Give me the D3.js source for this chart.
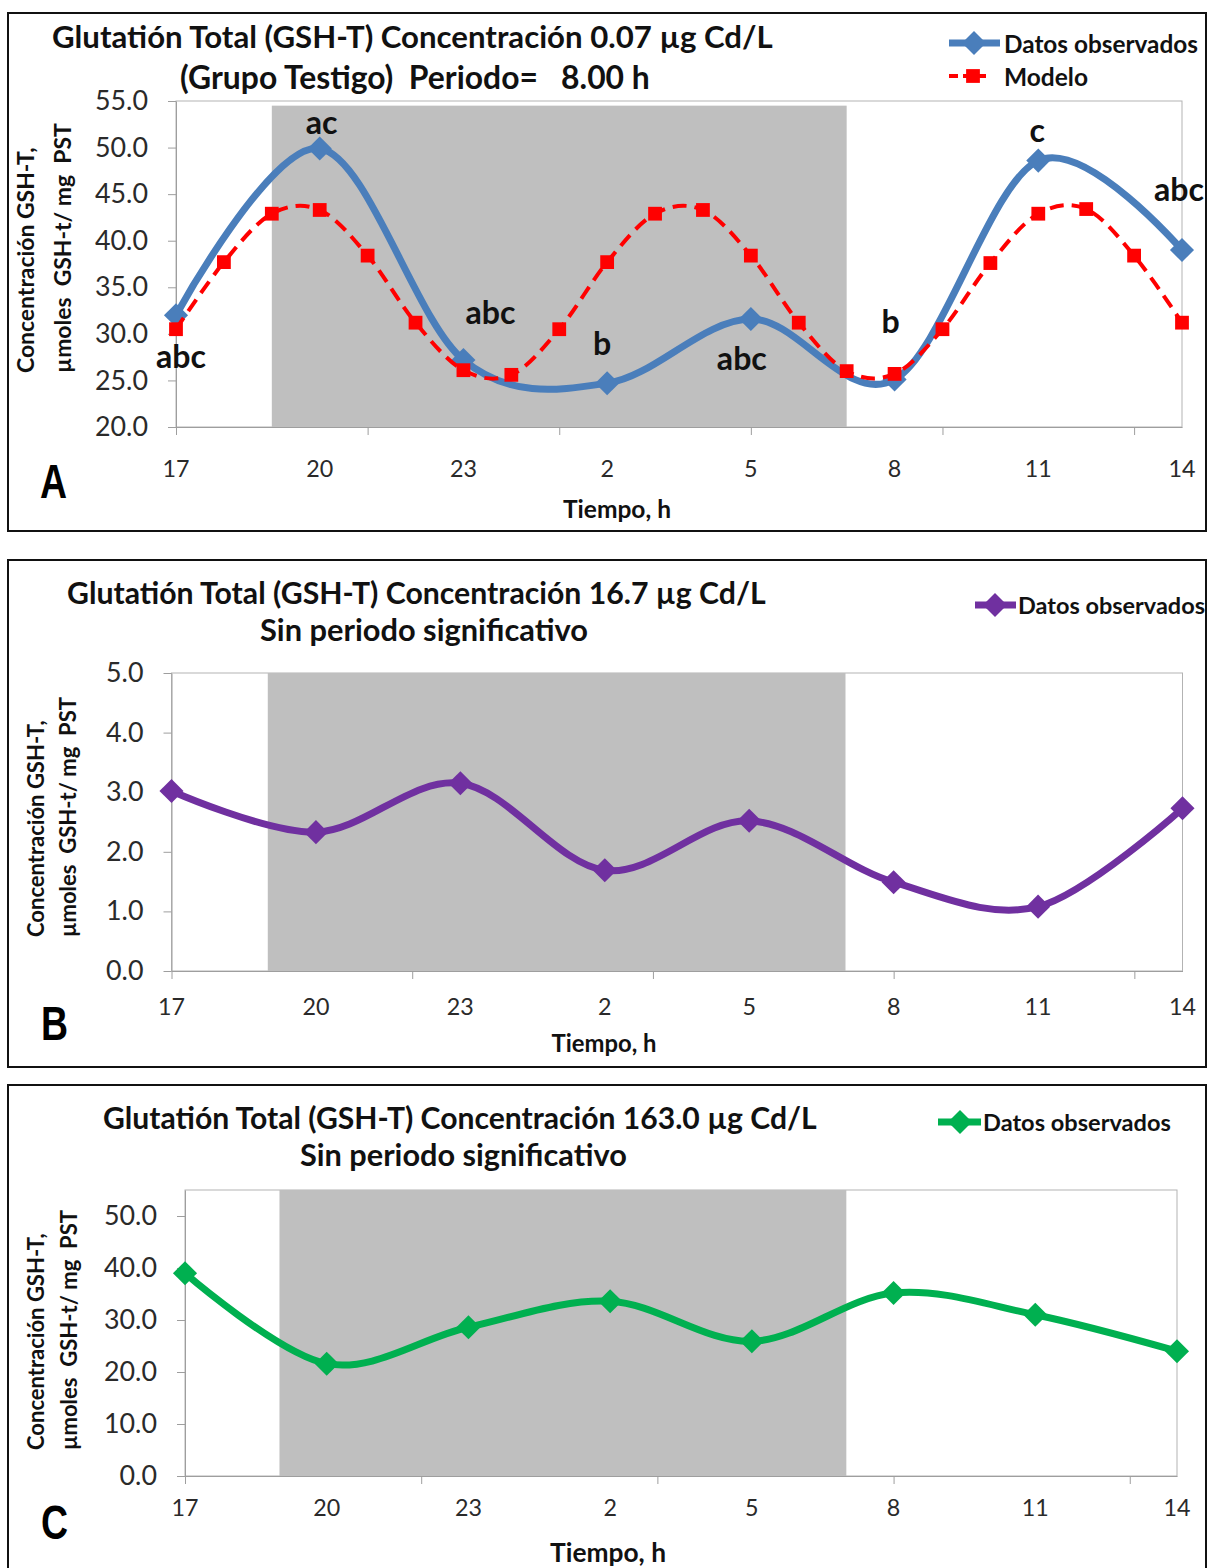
<!DOCTYPE html>
<html>
<head>
<meta charset="utf-8">
<script src="https://cdn.jsdelivr.net/npm/d3@7"></script>
<style>
  body { margin: 0; background: #fff; }
  svg { display: block; font-family: Lato, "Open Sans", sans-serif; }
</style>
</head>
<body>
<div id="chart"></div>
<script>
// ── data ─────────────────────────────────────────────
const X_LABELS    = ["17", "20", "23", "2", "5", "8", "11", "14"];
const LABEL_HOURS = [0, 3, 6, 9, 12, 15, 18, 21];          // hours after 17:00
const OBS_HOURS   = [0, 3, 6, 9, 12, 15, 18, 21];
const MODEL_HOURS = [0, 1, 2, 3, 4, 5, 6, 7, 8, 9, 10, 11, 12, 13, 14, 15, 16, 17, 18, 19, 20, 21];

const OBS_A   = [32.0, 49.9, 27.2, 24.7, 31.6, 25.1, 48.6, 39.0];
const MODEL_A = [30.5, 37.7, 42.9, 43.3, 38.4, 31.2, 26.1, 25.6, 30.5, 37.7, 42.9,
                 43.3, 38.4, 31.2, 26.0, 25.7, 30.5, 37.6, 42.9, 43.4, 38.4, 31.2];
const LETTERS_A = ["abc", "ac", "abc", "b", "abc", "b", "c", "abc"];
const OBS_B   = [3.02, 2.33, 3.15, 1.69, 2.52, 1.49, 1.08, 2.73];
const OBS_C   = [39.0, 21.6, 28.6, 33.6, 25.9, 35.2, 31.0, 24.0];

const Y_TICKS_A = [20, 25, 30, 35, 40, 45, 50, 55];
const Y_TICKS_B = [0, 1, 2, 3, 4, 5];
const Y_TICKS_C = [0, 10, 20, 30, 40, 50];
const X_TICKS_A  = [0, 4, 8, 12, 16, 20];
const X_TICKS_BC = [0, 5, 10, 15, 20];
const DARK = [2, 14];   // 19:00 -> 07:00

const TITLE1 = "Glutatión Total (GSH-T) Concentración ";
const Y_TITLE = ["Concentración GSH-T,", "µmoles  GSH-t/ mg  PST"];

// ── layout per panel ─────────────────────────────────
const panels = [
  {
    letter: "A", box: [8, 13, 1206, 531], plot: [176, 101, 1182, 427],
    yDomain: [20, 55], yTicks: Y_TICKS_A, darkTop: 54.5, xTicks: X_TICKS_A,
    titles: [
      { t: TITLE1 + "0.07 µg Cd/L", x: 52, y: 36, w: 721 },
      { t: "(Grupo Testigo)  Periodo=   8.00 h", x: 180, y: 77, w: 470 }
    ],
    series: [
      { values: OBS_A, hours: OBS_HOURS, color: "#4A7EBB", sym: "diamond", width: 7, name: "Datos observados",
        leg: { x0: 949, x1: 1000, xm: 974, y: 43, tx: 1004, tw: 194 } },
      { values: MODEL_A, hours: MODEL_HOURS, color: "#FF0000", sym: "square", width: 4, dash: "14,8", name: "Modelo",
        leg: { x0: 949, x1: 990, xm: 973, y: 76, tx: 1004, tw: 84 } }
    ],
    yTitle: { x1: 25, x2: 62, bottom: 373, w: 250 },
    xLabelY: 468, xTitle: { x: 617, y: 508, w: 108 }, letterPos: [40, 498],
    annots: LETTERS_A,
    annotOff: [[5, 53], [2, -15], [27, -36], [-5, -28], [-9, 51], [-4, -46], [-1, -19], [-3, -49]]
  },
  {
    letter: "B", box: [8, 560, 1206, 1067], plot: [171.5, 673, 1182.5, 971],
    yDomain: [0, 5], yTicks: Y_TICKS_B, darkTop: 5, xTicks: X_TICKS_BC,
    titles: [
      { t: TITLE1 + "16.7 µg Cd/L", x: 67, y: 592, w: 699 },
      { t: "Sin periodo significativo", x: 260, y: 629, w: 328 }
    ],
    series: [
      { values: OBS_B, hours: OBS_HOURS, color: "#7030A0", sym: "diamond", width: 7, name: "Datos observados",
        leg: { x0: 975, x1: 1016, xm: 995, y: 605, tx: 1018, tw: 187 } }
    ],
    yTitle: { x1: 35, x2: 67, bottom: 937, w: 240 },
    xLabelY: 1006, xTitle: { x: 604, y: 1042, w: 105 }, letterPos: [41, 1040]
  },
  {
    letter: "C", box: [8, 1085, 1206, 1600], plot: [185, 1190, 1177, 1476],
    yDomain: [0, 55], yTicks: Y_TICKS_C, darkTop: 55, xTicks: X_TICKS_BC,
    titles: [
      { t: TITLE1 + "163.0 µg Cd/L", x: 103, y: 1117, w: 714 },
      { t: "Sin periodo significativo", x: 300, y: 1154, w: 327 }
    ],
    series: [
      { values: OBS_C, hours: OBS_HOURS, color: "#00B050", sym: "diamond", width: 7, name: "Datos observados",
        leg: { x0: 938, x1: 981, xm: 960, y: 1122, tx: 983, tw: 188 } }
    ],
    yTitle: { x1: 35, x2: 68, bottom: 1450, w: 240 },
    xLabelY: 1507, xTitle: { x: 608, y: 1552, w: 116 }, letterPos: [41, 1539]
  }
];

// ── svg + text sizing helper ─────────────────────────
const svg = d3.select("#chart").append("svg")
  .attr("width", 1209).attr("height", 1568);

const probe = svg.append("text").attr("font-size", 100)
  .attr("xml:space", "preserve").style("visibility", "hidden");

function fitSize(txt, w, weight) {
  probe.attr("font-weight", weight || "normal").text(txt);
  return 100 * w / probe.node().getComputedTextLength();
}

const tickFs  = fitSize("55.0", 53);
const xLabFs  = fitSize("17", 27);
const annotFs = fitSize("abc", 50, "bold");
const curve = d3.curveCardinal.tension(0);   // Excel-like smoothing

const symPath = {
  diamond: d3.symbol(d3.symbolSquare, 290)(),
  square:  d3.symbol(d3.symbolSquare, 190)()
};

function drawPanel(p) {
  const g = svg.append("g");
  const [px0, py0, px1, py1] = p.plot;

  g.append("rect")
    .attr("x", p.box[0]).attr("y", p.box[1])
    .attr("width", p.box[2] - p.box[0]).attr("height", p.box[3] - p.box[1])
    .attr("fill", "none").attr("stroke", "#111").attr("stroke-width", 2);

  const x = d3.scaleLinear().domain([0, 21]).range([px0, px1]);
  const y = d3.scaleLinear().domain(p.yDomain).range([py1, py0]);

  // plot area outline
  g.append("rect").attr("x", px0).attr("y", py0)
    .attr("width", px1 - px0).attr("height", py1 - py0)
    .attr("fill", "#fff").attr("stroke", "#B3B3B3").attr("stroke-width", 1);

  // dark period band
  g.append("rect")
    .attr("x", x(DARK[0])).attr("y", y(p.darkTop))
    .attr("width", x(DARK[1]) - x(DARK[0])).attr("height", y(p.yDomain[0]) - y(p.darkTop))
    .attr("fill", "#BFBFBF");

  // axes
  const yAxis = g.append("g").attr("transform", `translate(${px0},0)`)
    .call(d3.axisLeft(y).tickValues(p.yTicks).tickSize(8).tickSizeOuter(0).tickPadding(20)
      .tickFormat(d3.format(".1f")));
  yAxis.selectAll("text").attr("font-size", tickFs).attr("fill", "#2a2a2a")
    .attr("font-family", "Lato, sans-serif");

  const xAxis = g.append("g").attr("transform", `translate(0,${py1})`)
    .call(d3.axisBottom(x).tickValues(p.xTicks).tickSize(8).tickSizeOuter(0).tickFormat(""));

  [yAxis, xAxis].forEach(a => {
    a.select(".domain").attr("stroke", "#9E9E9E");
    a.selectAll(".tick line").attr("stroke", "#9E9E9E");
  });

  g.selectAll(".xlab").data(X_LABELS).join("text")
    .attr("class", "xlab")
    .attr("x", (d, i) => x(LABEL_HOURS[i])).attr("y", p.xLabelY)
    .attr("text-anchor", "middle").attr("dominant-baseline", "central")
    .attr("font-size", xLabFs).attr("fill", "#2a2a2a")
    .text(d => d);

  // series
  p.series.forEach(s => {
    const pts = s.values.map((v, i) => [x(s.hours[i]), y(v)]);
    g.append("path")
      .attr("d", d3.line().curve(curve)(pts))
      .attr("fill", "none").attr("stroke", s.color)
      .attr("stroke-width", s.width)
      .attr("stroke-dasharray", s.dash || null)
      .attr("stroke-linejoin", "round");
    g.selectAll(null).data(pts).join("path")
      .attr("d", symPath[s.sym])
      .attr("transform", d => `translate(${d[0]},${d[1]})` + (s.sym === "diamond" ? " rotate(45)" : ""))
      .attr("fill", s.color);

    // legend
    const L = s.leg;
    g.append("line").attr("x1", L.x0).attr("x2", L.x1).attr("y1", L.y).attr("y2", L.y)
      .attr("stroke", s.color).attr("stroke-width", s.width)
      .attr("stroke-dasharray", s.dash ? "9,5" : null);
    g.append("path").attr("d", symPath[s.sym])
      .attr("transform", `translate(${L.xm},${L.y})` + (s.sym === "diamond" ? " rotate(45)" : ""))
      .attr("fill", s.color);
    g.append("text").attr("x", L.tx).attr("y", L.y)
      .attr("dominant-baseline", "central").attr("font-weight", "bold")
      .attr("font-size", fitSize(s.name, L.tw, "bold"))
      .attr("fill", "#111").text(s.name);
  });

  // significance letters
  if (p.annots) {
    const s0 = p.series[0];
    g.selectAll(".annot").data(p.annots).join("text")
      .attr("class", "annot")
      .attr("x", (d, i) => x(s0.hours[i]) + p.annotOff[i][0])
      .attr("y", (d, i) => y(s0.values[i]) + p.annotOff[i][1])
      .attr("text-anchor", "middle").attr("font-weight", "bold")
      .attr("font-size", annotFs).attr("fill", "#111")
      .text(d => d);
  }

  // titles
  p.titles.forEach(t => {
    g.append("text").attr("x", t.x).attr("y", t.y)
      .attr("xml:space", "preserve")
      .attr("dominant-baseline", "central").attr("font-weight", "bold")
      .attr("font-size", fitSize(t.t, t.w, "bold"))
      .attr("fill", "#111").text(t.t);
  });

  // y axis title (two rotated lines)
  const yfs = fitSize(Y_TITLE[1], p.yTitle.w, "bold");
  [p.yTitle.x1, p.yTitle.x2].forEach((xx, i) => {
    g.append("text")
      .attr("transform", `translate(${xx},${p.yTitle.bottom}) rotate(-90)`)
      .attr("xml:space", "preserve")
      .attr("dominant-baseline", "central").attr("font-weight", "bold")
      .attr("font-size", yfs).attr("fill", "#111")
      .text(Y_TITLE[i]);
  });

  // x axis title
  g.append("text").attr("x", p.xTitle.x).attr("y", p.xTitle.y)
    .attr("text-anchor", "middle").attr("dominant-baseline", "central")
    .attr("font-weight", "bold").attr("font-size", fitSize("Tiempo, h", p.xTitle.w, "bold"))
    .attr("fill", "#111").text("Tiempo, h");

  // panel letter (condensed look)
  g.append("text")
    .attr("transform", `translate(${p.letterPos[0]},${p.letterPos[1]}) scale(0.78,1)`)
    .attr("font-family", "'Liberation Sans', Arial, sans-serif")
    .attr("font-weight", "bold").attr("font-size", 48).attr("fill", "#000")
    .text(p.letter);
}

panels.forEach(drawPanel);
probe.remove();
</script>
</body>
</html>
